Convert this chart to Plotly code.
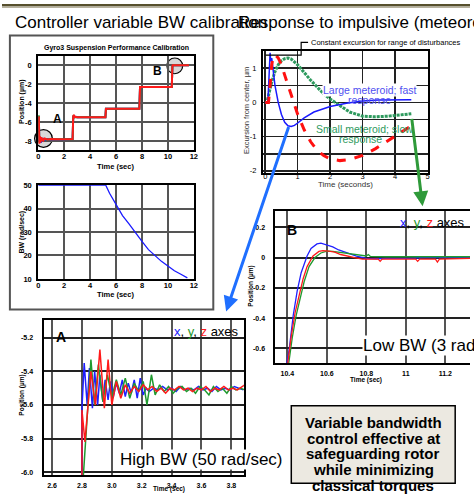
import plotly.graph_objects as go

W, H = 474, 503
def px(p): return p / W
def py(p): return 1 - p / H

FONT = "Liberation Sans, Arial, sans-serif"

# ---------------- data ----------------
# Panel 1 (calibration steps)
cal_t = [0, 0.05, 0.08, 0.12, 0.16, 0.2, 0.25, 0.3, 0.4, 0.5, 0.7, 1.0, 1.5, 2.0, 2.5, 2.65, 2.7, 2.75, 2.8, 2.9, 3.0,
         4.0, 5.18, 5.22, 5.3, 6.5, 7.8, 7.85, 7.9, 9.0, 10.3, 10.35, 10.4, 11.0, 11.62]
cal_x = [-5.5, -5.5, -8.1, -7.9, -7.6, -8.2, -7.7, -8.0, -7.8, -7.9, -7.8, -7.85, -7.8, -7.83, -7.8, -7.8, -5.45, -5.3,
         -5.5, -5.45, -5.5, -5.5, -5.5, -4.6, -4.6, -4.6, -4.6, -2.3, -2.3, -2.3, -2.3, 0.05, 0.0, 0.0, 0.0]
cal_y = [-5.3, -5.4, -8.2, -7.6, -8.1, -7.7, -8.0, -7.75, -7.9, -7.8, -7.85, -7.8, -7.82, -7.8, -7.82, -7.8, -5.4, -5.3,
         -5.5, -5.5, -5.5, -5.5, -5.5, -4.6, -4.6, -4.6, -4.6, -2.3, -2.3, -2.3, -2.3, 0.05, 0.0, 0.0, 0.0]
cal_z = [-5.5, -5.5, -8.3, -7.5, -8.2, -7.6, -8.05, -7.7, -7.95, -7.75, -7.85, -7.8, -7.82, -7.8, -7.82, -7.8, -5.4,
         -5.25, -5.5, -5.45, -5.5, -5.5, -5.5, -4.6, -4.6, -4.6, -4.6, -2.3, -2.3, -2.3, -2.3, 0.05, 0.0, 0.0, 0.0]

bw_t = [0, 5.2, 5.5, 6, 6.5, 7, 7.5, 8, 8.5, 9, 9.5, 10, 10.5, 11, 11.5]
bw_v = [50, 50, 46.5, 41.5, 37, 33.5, 29.5, 26, 22.5, 20, 17.5, 15.5, 13.5, 12, 10.5]

# Panel 2 (impulsive response)
fast_t = [0, 0.08, 0.1, 0.13, 0.15, 0.17, 0.2, 0.25, 0.3, 0.4, 0.5, 0.6, 0.7, 0.8, 0.9, 1.0, 1.2, 1.5, 2.0, 2.5, 3.0,
          3.5, 4.0, 4.5]
fast_v = [0, 0, 0.4, 1.1, 1.45, 1.2, 1.3, 0.9, 0.5, 0.0, -0.35, -0.58, -0.68, -0.7, -0.67, -0.6, -0.45, -0.28, -0.12,
          -0.02, 0.04, 0.07, 0.08, 0.08]
mid_t = [0, 0.1, 0.15, 0.2, 0.25, 0.3, 0.4, 0.5, 0.6, 0.7, 0.8, 0.9, 1.0, 1.2, 1.4, 1.6, 1.8, 2.0, 2.3, 2.6, 3.0, 3.4,
         3.8, 4.2, 4.5]
mid_v = [0, 0, 0.5, 1.1, 1.35, 1.4, 1.3, 1.1, 0.8, 0.5, 0.2, -0.1, -0.35, -0.8, -1.15, -1.4, -1.55, -1.65, -1.7,
         -1.67, -1.55, -1.35, -1.1, -0.85, -0.68]
slow_t = [0, 0.05, 0.1, 0.2, 0.3, 0.4, 0.5, 0.6, 0.7, 0.8, 1.0, 1.2, 1.4, 1.6, 1.8, 2.0, 2.3, 2.6, 3.0, 3.4, 3.8, 4.2,
          4.5]
slow_v = [0, 0, 0.2, 0.6, 0.9, 1.1, 1.22, 1.28, 1.3, 1.27, 1.1, 0.87, 0.65, 0.45, 0.25, 0.1, -0.1, -0.28, -0.4, -0.42,
          -0.4, -0.37, -0.33]

# Panel B (low BW)
lb_xt = [10.395, 10.41, 10.43, 10.45, 10.47, 10.50, 10.52, 10.55, 10.57, 10.60, 10.63, 10.66, 10.70, 10.75, 10.80,
         10.85, 10.9, 11.0, 11.1, 11.2, 11.33]
lb_xv = [-0.72, -0.6, -0.38, -0.22, -0.10, 0.01, 0.06, 0.09, 0.095, 0.085, 0.07, 0.05, 0.03, 0.01, -0.005, -0.008,
         -0.005, -0.005, 0.0, 0.0, 0.0]
lb_yt = [10.405, 10.425, 10.445, 10.465, 10.485, 10.51, 10.54, 10.57, 10.60, 10.63, 10.66, 10.70, 10.75, 10.80, 10.81,
         10.82, 10.9, 11.0, 11.1, 11.2, 11.33]
lb_yv = [-0.72, -0.53, -0.38, -0.26, -0.16, -0.06, 0.0, 0.03, 0.042, 0.04, 0.035, 0.025, 0.015, 0.01, 0.02, 0.008,
         0.005, 0.005, 0.006, 0.004, 0.005]
lb_zt = [10.40, 10.42, 10.44, 10.46, 10.48, 10.50, 10.53, 10.56, 10.58, 10.61, 10.64, 10.67, 10.70, 10.74, 10.78,
         10.82, 10.86, 10.87, 10.88, 10.95, 11.05, 11.06, 11.07, 11.15, 11.16, 11.17, 11.25, 11.33]
lb_zv = [-0.72, -0.52, -0.36, -0.24, -0.14, -0.06, 0.01, 0.04, 0.045, 0.042, 0.035, 0.02, 0.01, 0.0, -0.01, -0.01,
         -0.01, -0.025, -0.01, -0.01, -0.01, -0.025, -0.01, -0.01, -0.03, -0.01, -0.005, -0.005]

# Panel A (high BW)
hb_xt = [2.80, 2.80, 2.815, 2.835, 2.85, 2.87, 2.885, 2.905, 2.92, 2.94, 2.955, 2.975, 2.99, 3.01, 3.03, 3.05, 3.07,
         3.09, 3.11, 3.13, 3.15, 3.17, 3.19, 3.21, 3.23, 3.25, 3.28, 3.31, 3.34, 3.37, 3.40, 3.43, 3.46, 3.49, 3.52,
         3.55, 3.58, 3.61, 3.64, 3.67, 3.70, 3.73, 3.76, 3.79, 3.82, 3.85, 3.88]
hb_xv = [-6.05, -5.62, -5.35, -5.60, -5.38, -5.62, -5.40, -5.60, -5.42, -5.58, -5.45, -5.57, -5.46, -5.55, -5.47,
         -5.53, -5.45, -5.55, -5.47, -5.53, -5.45, -5.56, -5.44, -5.54, -5.50, -5.52, -5.50, -5.51, -5.49, -5.51,
         -5.50, -5.52, -5.49, -5.51, -5.50, -5.51, -5.49, -5.51, -5.50, -5.52, -5.49, -5.51, -5.50, -5.51, -5.49,
         -5.50, -5.51]
hb_yt = [2.805, 2.83, 2.86, 2.885, 2.91, 2.94, 2.97, 3.0, 3.03, 3.06, 3.09, 3.12, 3.15, 3.18, 3.21, 3.235, 3.265, 3.29,
         3.32, 3.35, 3.38, 3.41, 3.44, 3.47, 3.50, 3.53, 3.56, 3.59, 3.62, 3.65, 3.68, 3.71, 3.74, 3.77, 3.80, 3.83,
         3.86, 3.89]
hb_yv = [-6.08, -5.75, -5.33, -5.60, -5.36, -5.58, -5.42, -5.55, -5.45, -5.54, -5.44, -5.56, -5.47, -5.52, -5.46,
         -5.60, -5.42, -5.54, -5.48, -5.52, -5.49, -5.53, -5.50, -5.49, -5.52, -5.50, -5.53, -5.49, -5.51, -5.54,
         -5.49, -5.52, -5.50, -5.53, -5.49, -5.51, -5.50, -5.51]
hb_zt = [2.80, 2.80, 2.82, 2.86, 2.89, 2.92, 2.95, 2.975, 3.0, 3.03, 3.06, 3.09, 3.12, 3.15, 3.18, 3.21, 3.24, 3.27,
         3.30, 3.33, 3.36, 3.39, 3.42, 3.45, 3.48, 3.51, 3.54, 3.57, 3.60, 3.63, 3.66, 3.69, 3.72, 3.75, 3.78, 3.81,
         3.84, 3.87, 3.89]
hb_zv = [-6.05, -5.63, -5.82, -5.40, -5.60, -5.27, -5.62, -5.33, -5.60, -5.46, -5.56, -5.48, -5.53, -5.49, -5.52,
         -5.48, -5.51, -5.49, -5.52, -5.50, -5.53, -5.50, -5.51, -5.49, -5.51, -5.50, -5.52, -5.50, -5.51, -5.49,
         -5.52, -5.50, -5.51, -5.49, -5.51, -5.50, -5.51, -5.49, -5.48]

# tick labels
p1_xticks = [0, 2, 4, 6, 8, 10, 12]
p1_yticks = [0, -2, -4, -6, -8]
bw_yticks = [10, 20, 30, 40, 50]
p2_xticks = [0, 1, 2, 3, 4, 5]
p2_yticks = [-2, -1.5, -1, -0.5, 0, 0.5, 1, 1.5]
p2_ylabels = ["-2", "", "-1", "", "0", "", "1", ""]
b_xticks = [10.4, 10.6, 10.8, 11, 11.2]
b_xlabels = ["10.4", "10.6", "10.8", "11", "11.2"]
b_yticks = [0.2, 0, -0.2, -0.4, -0.6]
b_ylabels = ["0.2", "0", "-0.2", "-0.4", "-0.6"]
a_xticks = [2.6, 2.8, 3.0, 3.2, 3.4, 3.6, 3.8]
a_xlabels = ["2.6", "2.8", "3.0", "3.2", "3.4", "3.6", "3.8"]
a_yticks = [-5.2, -5.4, -5.6, -5.8, -6.0]
a_ylabels = ["-5.2", "-5.4", "-5.6", "-5.8", "-6.0"]

BLUE, GREEN, RED = "#2020ff", "#1f9a2f", "#ff1a1a"

fig = go.Figure()

def line(x, y, xa, ya, color, width=1.5, dash=None):
    fig.add_trace(go.Scatter(x=x, y=y, mode="lines", xaxis=xa, yaxis=ya,
                             line=dict(color=color, width=width, dash=dash), hoverinfo="skip"))

line(cal_t, cal_x, "x", "y", BLUE, 2)
line(cal_t, cal_y, "x", "y", GREEN, 2)
line(cal_t, cal_z, "x", "y", RED, 2)
line(bw_t, bw_v, "x2", "y2", "#1a1aff", 1.3)
line(slow_t, slow_v, "x3", "y3", "#2e9a5e", 3, "3px,1px")
line(fast_t, fast_v, "x3", "y3", "#1a1aff", 1.5)
line(mid_t, mid_v, "x3", "y3", "#ff1010", 3, "dash")
line(lb_xt, lb_xv, "x4", "y4", BLUE, 1.3)
line(lb_yt, lb_yv, "x4", "y4", GREEN, 1.3)
line(lb_zt, lb_zv, "x4", "y4", RED, 1.3)
line(hb_xt, hb_xv, "x5", "y5", BLUE, 1.5)
line(hb_yt, hb_yv, "x5", "y5", GREEN, 1.5)
line(hb_zt, hb_zv, "x5", "y5", RED, 1.5)

def axis(domain, rng, tickvals, ticktext=None, anchor=None, size=7, bold=True, grid="#555", gw=2,
         mirror=True, standoff=3):
    d = dict(domain=domain, range=rng, tickmode="array", tickvals=tickvals,
             ticktext=ticktext if ticktext is not None else [str(v) for v in tickvals],
             showgrid=True, gridcolor=grid, gridwidth=gw, zeroline=False,
             showline=True, linecolor="black", linewidth=2, mirror=mirror, ticks="", ticklen=0,
             tickfont=dict(family=FONT, size=size, color="black", weight="bold" if bold else "normal"),
             ticklabelstandoff=standoff, anchor=anchor, fixedrange=True)
    return d

layout = dict(
    xaxis=axis([px(36.7), px(194.3)], [0, 12], p1_xticks, anchor="y", size=7.5, standoff=-2),
    yaxis=axis([py(149), py(52.7)], [-9, 1], p1_yticks, anchor="x", size=7.5),
    xaxis2=axis([px(36.7), px(194.3)], [0, 12], p1_xticks, anchor="y2", size=7.5, standoff=-2),
    yaxis2=axis([py(280), py(184.3)], [10, 50], bw_yticks, anchor="x2", size=7.5),
    xaxis3=axis([px(264.3), px(431)], [-0.07, 5], p2_xticks, anchor="y3", size=7.5, bold=False,
                grid="#222", gw=1.5, standoff=-5),
    yaxis3=axis([py(172), py(48)], [-2.06, 1.5], p2_yticks, p2_ylabels, anchor="x3", size=7.5,
                bold=False, grid="#222", gw=1.5),
    xaxis4=axis([px(276), 1.0], [10.335, 11.325], b_xticks, b_xlabels, anchor="y4", size=7, grid="#555",
                standoff=2),
    yaxis4=axis([py(366), py(211)], [-0.70, 0.306], b_yticks, b_ylabels, anchor="x4", size=7,
                grid="#222", mirror=False, standoff=6),
    xaxis5=axis([px(43), px(245)], [2.549, 3.884], a_xticks, a_xlabels, anchor="y5", size=7, grid="#555",
                standoff=2),
    yaxis5=axis([py(480), py(322)], [-6.02, -5.095], a_yticks, a_ylabels, anchor="x5", size=7,
                grid="#222", standoff=8),
)

ann = []
def text(x, y, s, size=8, color="black", bold=False, xanchor="center", angle=0, bg=None, yanchor="middle"):
    a = dict(x=px(x), y=py(y), xref="paper", yref="paper", text=s, showarrow=False,
             font=dict(family=FONT, size=size, color=color, weight="bold" if bold else "normal"),
             xanchor=xanchor, yanchor=yanchor, textangle=angle, borderpad=0)
    if bg:
        a["bgcolor"] = bg
    ann.append(a)

# slide titles
text(12, 19, "Controller variable BW calibration", 17, xanchor="left")
text(238, 19, "Response to impulsive (meteoroid) disturbances", 17, xanchor="left")

# panel 1
text(115.5, 45, "Gyro3 Suspension Performance Calibration", 7, bold=True)
text(20, 100, "Position (µm)", 7, bold=True, angle=-90)
text(115, 165.5, "Time (sec)", 7.5, bold=True)
text(20, 232, "BW (rad/sec)", 7, bold=True, angle=-90)
text(115, 296, "Time (sec)", 7.5, bold=True)
text(56, 117, "A", 12, bold=True)
text(157, 68, "B", 12, bold=True)

# panel 2
text(312, 39, "Constant excursion for range of disturbances", 7.5, xanchor="left")
text(247, 108, "Excursion from center, µm", 7.5, color="#333", angle=-90)
text(348, 184, "Time (seconds)", 8, color="#333")
text(372, 87.5, "Large meteroid; fast", 10.5, color="#5050f0", bg="white")
text(372, 98, "response", 10.5, color="#5050f0")
text(367, 127, "Small meteroid; slow", 10.5, color="#2e9a5e")
text(363, 137.5, "response", 10.5, color="#2e9a5e")

# panel B
text(294, 230, "B", 14, bold=True)
text(402, 222, '<span style="color:#2020ff">x</span>, <span style="color:#1f9a2f">y</span>, '
               '<span style="color:#ff1a1a">z</span> axes', 13, xanchor="left")
text(365, 348, "Low BW (3 rad/sec)", 17, xanchor="left", bg="white")
text(252, 287, "Position (µm)", 6.5, bold=True, angle=-90)
text(369, 383, "Time (sec)", 6.5, bold=True)

# panel A
text(60, 339, "A", 14, bold=True)
text(173, 333, '<span style="color:#2020ff">x</span>, <span style="color:#1f9a2f">y</span>, '
               '<span style="color:#ff1a1a">z</span> axes', 13, xanchor="left")
text(118, 464, "High BW (50 rad/sec)", 17, xanchor="left", bg="white")
text(20, 398, "Position (µm)", 6.5, bold=True, angle=-90)
text(169, 494, "Time (sec)", 6.5, bold=True)

# conclusion box
for i, s in enumerate(["Variable bandwidth", "control effective at", "safeguarding rotor",
                       "while minimizing", "classical torques"]):
    text(376, 426 + i * 16, s, 15, bold=True)

# arrows
def arrow(hx, hy, tx, ty, color):
    ann.append(dict(x=px(hx), y=py(hy), xref="paper", yref="paper", ax=tx - hx, ay=ty - hy,
                    axref="pixel", ayref="pixel", text="", showarrow=True, arrowhead=2,
                    arrowsize=1, arrowwidth=3, arrowcolor=color, standoff=0, startstandoff=0))

arrow(227, 313, 290, 127, "#1f6fff")
arrow(426, 206, 415, 117, "#2f9a3a")

shapes = [
    dict(type="rect", xref="paper", yref="paper", x0=0, x1=1, y0=py(2.5), y1=1, fillcolor="#57502e",
         line=dict(width=0), layer="below"),
    dict(type="rect", xref="paper", yref="paper", x0=0, x1=1, y0=py(4), y1=py(2.5), fillcolor="#b8b3a0",
         line=dict(width=0), layer="below"),
    dict(type="rect", xref="paper", yref="paper", x0=px(8), x1=px(214), y0=py(311), y1=py(32),
         line=dict(color="#555", width=2), layer="below"),
    dict(type="circle", xref="paper", yref="paper", x0=px(33), x1=px(51), y0=py(146), y1=py(128),
         fillcolor="#d8d8d8", line=dict(color="black", width=1.2), layer="below"),
    dict(type="circle", xref="paper", yref="paper", x0=px(167), x1=px(183), y0=py(71), y1=py(55),
         fillcolor="#d8d8d8", line=dict(color="black", width=1.2), layer="below"),
    dict(type="rect", xref="paper", yref="paper", x0=px(293), x1=px(459), y0=py(488), y1=py(409),
         fillcolor="#ece9e1", line=dict(color="black", width=1.5), layer="below"),
    # bracket for "constant excursion"
    dict(type="path", xref="paper", yref="paper",
         path=f"M {px(267)} {py(52)} L {px(303)} {py(52)} L {px(303)} {py(39)} L {px(310)} {py(39)}",
         line=dict(color="black", width=1.2)),
]

fig.update_layout(width=W, height=H, margin=dict(l=0, r=0, t=0, b=0), paper_bgcolor="white",
                  plot_bgcolor="rgba(0,0,0,0)", showlegend=False, annotations=ann, shapes=shapes,
                  font=dict(family=FONT), **layout)

fig.write_html("out.html", config={"displayModeBar": False, "staticPlot": True},
               post_script="document.body.style.margin='0';document.body.style.overflow='hidden';")
